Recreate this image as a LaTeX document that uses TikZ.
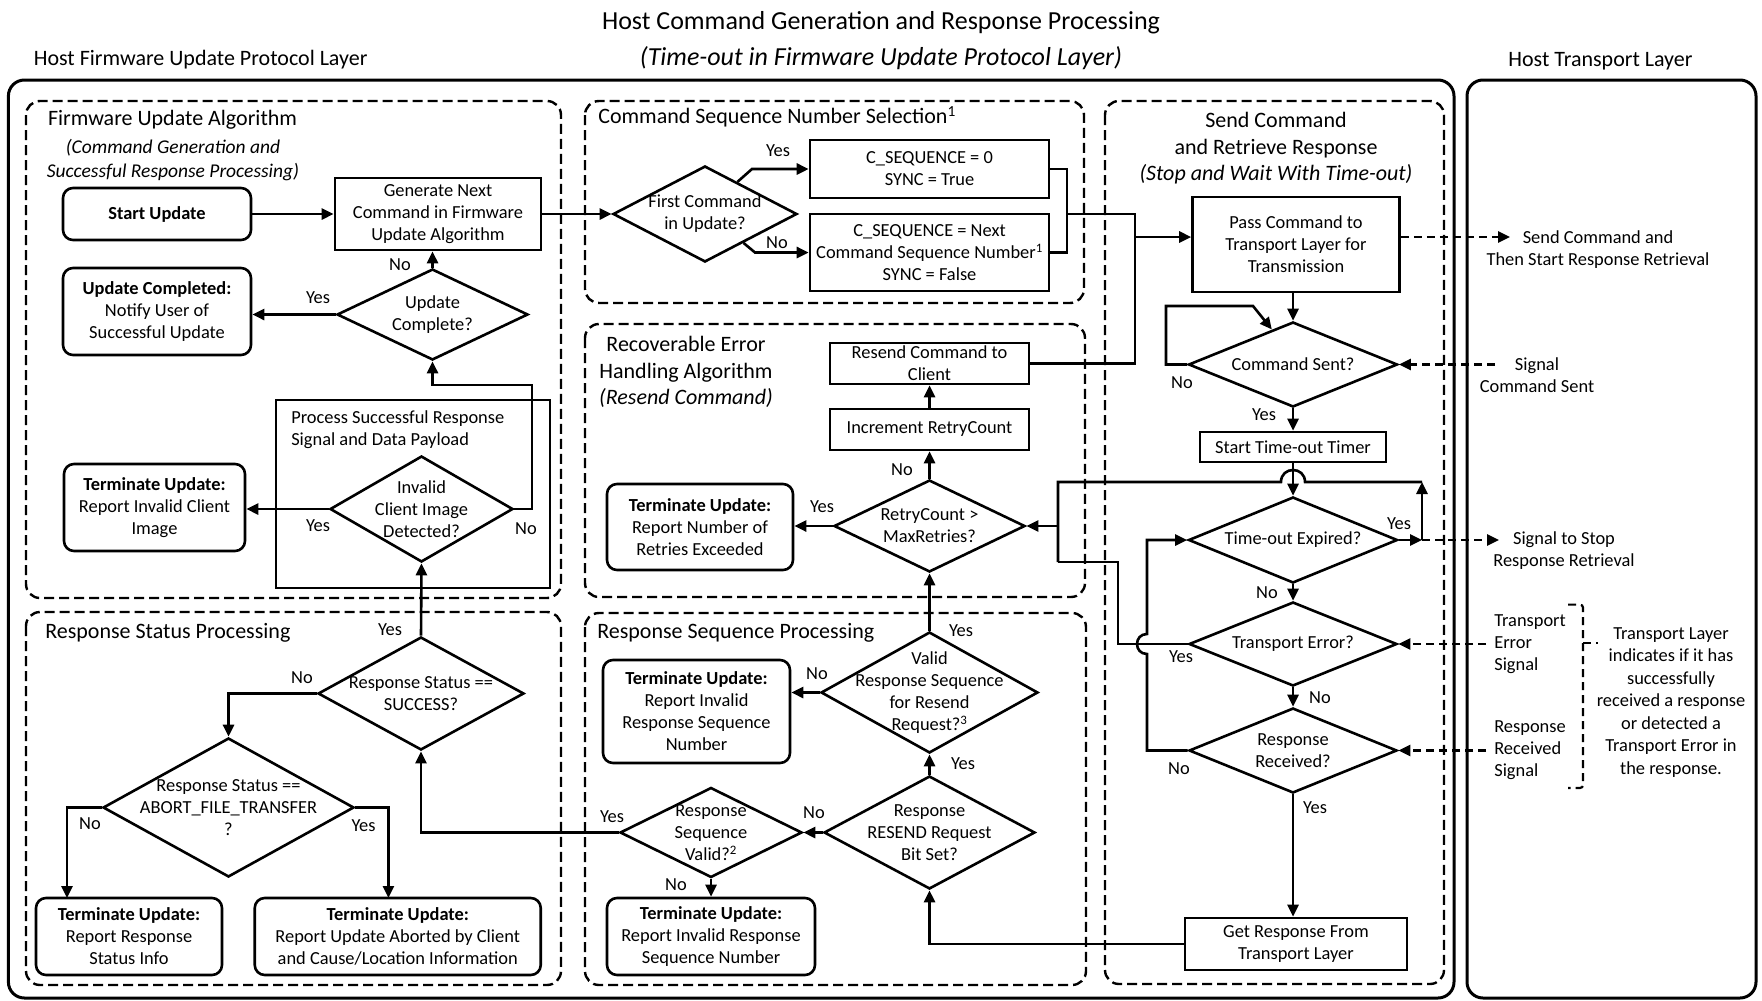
\documentclass[tikz,border=0pt]{standalone}
\usepackage{fontspec}
\setmainfont{Carlito}
\usetikzlibrary{arrows.meta,calc,shapes.geometric}

% decision: name, position, width, height, text (text kept separate from the outline)
\newcommand{\decision}[5]{%
  \node[dia, minimum width=#3, minimum height=#4] (#1) at #2 {};
  \node[dtext] (#1-text) at #2 {#5};
}

\begin{document}
\begin{tikzpicture}[x=1pt,y=-1pt,
  font=\fontsize{18.4}{22}\selectfont,
  line width=2.6pt,
  arr/.style={-{Triangle[length=12pt,width=11pt]}},
  box/.style={draw, rectangle, inner sep=0pt, align=center},
  term/.style={draw, rectangle, rounded corners=10pt, inner sep=0pt, align=center},
  dia/.style={draw, diamond, inner sep=0pt},
  dtext/.style={align=center, inner sep=0pt},
  region/.style={draw, dash pattern=on 10pt off 5pt, rounded corners=14pt, line width=2.4pt},
  layer/.style={draw, rounded corners=16pt, line width=3pt},
  sig/.style={dash pattern=on 8pt off 5pt},
  lbl/.style={inner sep=0pt},
  sect/.style={font=\fontsize{22}{26.5}\selectfont, inner sep=0pt},
]
\fill[white] (0,0) rectangle (1762,1001);

% ---------- headings ----------
\node[inner sep=0pt, font=\fontsize{26}{31}\selectfont] (title) at (881,23)
  {Host Command Generation and Response Processing};
\node[inner sep=0pt, font=\fontsize{26}{31}\selectfont\itshape] (subtitle) at (881,58)
  {(Time-out in Firmware Update Protocol Layer)};
\node[sect, anchor=west] (layerL) at (32.5,60) {Host Firmware Update Protocol Layer};
\node[sect] (layerR) at (1600.5,61) {Host Transport Layer};

% ---------- layer frames ----------
\draw[layer] (8.4,80) rectangle (1454,998);
\draw[layer] (1467,80) rectangle (1756,998);

% ---------- dashed regions ----------
\draw[region] (26,101) rectangle (561,598);
\draw[region] (585,101) rectangle (1084,303);
\draw[region] (1105,101) rectangle (1444,984);
\draw[region] (585,324) rectangle (1085,597);
\draw[region] (26,612) rectangle (561,985);
\draw[region] (585,613) rectangle (1086,985);

% ---------- region titles ----------
\node[sect, anchor=west] (tA) at (46.7,120) {Firmware Update Algorithm};
\node[inner sep=0pt, align=center, font=\fontsize{19.5}{24}\selectfont\itshape] (tA2) at (173,160)
  {(Command Generation and\\Successful Response Processing)};
\node[sect, anchor=west] (tB) at (597,117) {Command Sequence Number Selection\textsuperscript{1}};
\node[sect, align=center] (tD) at (686,372)
  {Recoverable Error\\Handling Algorithm\\\textit{(Resend Command)}};
\node[sect, align=center] (tC) at (1276,148.5)
  {Send Command\\and Retrieve Response\\\textit{(Stop and Wait With Time-out)}};
\node[sect, anchor=west] (tE) at (44,633) {Response Status Processing};
\node[sect, anchor=west] (tF) at (596,633) {Response Sequence Processing};

% ---------- firmware update algorithm ----------
\node[term, minimum width=188pt, minimum height=52pt] (start) at (157,214) {\textbf{Start Update}};
\node[box, minimum width=206pt, minimum height=72pt] (gen) at (438,214)
  {Generate Next\\Command in Firmware\\Update Algorithm};
\decision{ucd}{(432.5,314.5)}{191pt}{91pt}{Update\\Complete?}
\node[term, minimum width=188pt, minimum height=87pt] (ucomp) at (157,311.5)
  {\textbf{Update Completed:}\\Notify User of\\Successful Update};
\node[box, minimum width=274pt, minimum height=188pt] (proc) at (413,494) {};
\node[inner sep=0pt, align=left, anchor=west] (proc-text) at (290,430)
  {Process Successful Response\\Signal and Data Payload};
\decision{inv}{(421.5,509)}{183pt}{106pt}{Invalid\\Client Image\\Detected?}
\node[term, minimum width=181pt, minimum height=87pt] (tinv) at (154.5,507.5)
  {\textbf{Terminate Update:}\\Report Invalid Client\\Image};

% ---------- command sequence number selection ----------
\decision{fc}{(705,214)}{184pt}{96pt}{First Command\\in Update?}
\node[box, minimum width=239pt, minimum height=58pt] (c0) at (929.5,169)
  {C\_SEQUENCE = 0\\SYNC = True};
\node[box, minimum width=239pt, minimum height=77pt] (cn) at (929.5,252.5)
  {C\_SEQUENCE = Next\\Command Sequence Number\textsuperscript{1}\\SYNC = False};

% ---------- recoverable error handling ----------
\node[box, minimum width=199pt, minimum height=41pt] (resend) at (929.5,363.5)
  {Resend Command to\\Client};
\node[box, minimum width=199pt, minimum height=41pt] (inc) at (929.5,429.5)
  {Increment RetryCount};
\decision{rc}{(929.5,526)}{191pt}{92pt}{RetryCount >\\MaxRetries?}
\node[term, minimum width=186pt, minimum height=86pt] (tret) at (700,527)
  {\textbf{Terminate Update:}\\Report Number of\\Retries Exceeded};

% ---------- send command and retrieve response ----------
\node[box, minimum width=207pt, minimum height=95pt] (pass) at (1296,244.5)
  {Pass Command to\\Transport Layer for\\Transmission};
\decision{cs}{(1293,364.5)}{209pt}{85pt}{Command Sent?}
\node[box, minimum width=186pt, minimum height=30pt] (timer) at (1293,447)
  {Start Time-out Timer};
\decision{to}{(1293,540)}{209pt}{86pt}{Time-out Expired?}
\decision{te}{(1293,644)}{208pt}{84pt}{Transport Error?}
\decision{rr}{(1293,750.5)}{208pt}{85pt}{Response\\Received?}
\node[box, minimum width=222pt, minimum height=52pt] (get) at (1296,944)
  {Get Response From\\Transport Layer};

% ---------- response status processing ----------
\decision{succ}{(421,693.5)}{206pt}{113pt}{Response Status ==\\SUCCESS?}
\decision{abort}{(228.5,807.5)}{251pt}{139pt}{Response Status ==\\ABORT\_FILE\_TRANSFER\\?}
\node[term, minimum width=186pt, minimum height=77pt] (tstat) at (129,936.5)
  {\textbf{Terminate Update:}\\Report Response\\Status Info};
\node[term, minimum width=286pt, minimum height=77pt] (tabort) at (397.75,936.5)
  {\textbf{Terminate Update:}\\Report Update Aborted by Client\\and Cause/Location Information};

% ---------- response sequence processing ----------
\decision{vrs}{(929.5,692.5)}{217pt}{121pt}{Valid\\Response Sequence\\for Resend\\Request?\textsuperscript{3}}
\node[term, minimum width=187pt, minimum height=103pt] (trsn) at (696.5,711.5)
  {\textbf{Terminate Update:}\\Report Invalid\\Response Sequence\\Number};
\decision{resbit}{(929.5,832.5)}{211pt}{113pt}{Response\\RESEND Request\\Bit Set?}
\decision{rsv}{(711,832.5)}{182pt}{90pt}{Response\\Sequence\\Valid?\textsuperscript{2}}
\node[term, minimum width=208pt, minimum height=77pt] (trisn) at (711,936.5)
  {\textbf{Terminate Update:}\\Report Invalid Response\\Sequence Number};

% ---------- transport layer notes ----------
\node[dtext] (n-send) at (1598,249.5) {Send Command and\\Then Start Response Retrieval};
\node[dtext] (n-sent) at (1537,375) {Signal\\Command Sent};
\node[dtext] (n-stop) at (1564,550.7) {Signal to Stop\\Response Retrieval};
\node[inner sep=0pt, align=left, anchor=west] (n-err) at (1493,644.5) {Transport\\Error\\Signal};
\node[inner sep=0pt, align=left, anchor=west] (n-rcv) at (1493,750.5) {Response\\Received\\Signal};
\node[dtext, font=\fontsize{18.4}{22.5}\selectfont] (n-info) at (1671,702.5)
  {Transport Layer\\indicates if it has\\successfully\\received a response\\or detected a\\Transport Error in\\the response.};

% ---------- helper points ----------
\coordinate (fcy1) at ($(fc.north)!0.348!(fc.east)$);
\coordinate (fcy2) at (752,169);
\coordinate (fcn1) at ($(fc.east)!0.587!(fc.south)$);
\coordinate (fcn2) at (755,252.5);
\coordinate (m1) at (1067,214);
\coordinate (m2) at (1135,214);
\coordinate (m3) at (1135,363.5);
\coordinate (m4) at (1135,237);
\coordinate (cl1) at (1166,306);
\coordinate (cl2) at (1253,306);
\coordinate (csin) at ($(cs.north)!0.2!(cs.west)$);
\coordinate (ty1) at (1422,540);
\coordinate (ty2) at (1422,482);
\coordinate (h1) at (1305,482);
\coordinate (h2) at (1281,482);
\coordinate (rl1) at (1058,482);
\coordinate (rl2) at (1058,562);
\coordinate (rl3) at (1058,526);
\coordinate (te1) at (1118,562);
\coordinate (rn1) at (1147,750.5);
\coordinate (rn2) at (1147,654);
\coordinate (rn3) at (1147,634);
\coordinate (rn4) at (1147,540);
\coordinate (in2) at (532,385);
\coordinate (an) at (67,898);
\coordinate (ay) at (388.4,898);
\coordinate (s1) at (1510,237);
\coordinate (s2) at (1495,364.5);
\coordinate (s3) at (1499,540);
\coordinate (s4) at (1486,644);
\coordinate (s5) at (1486,750.5);
\coordinate (br1) at (1568,604.6);
\coordinate (br2) at (1583,604.6);
\coordinate (br3) at (1583,788);
\coordinate (br4) at (1568,788);
\coordinate (br5) at (1583,643);
\coordinate (br6) at (1598,643);

% ---------- connectors: firmware update algorithm ----------
\draw[arr] (start) -- (gen);
\draw[arr] (gen) -- (fc);
\draw[arr] (ucd.north) -- (ucd.north |- gen.south);
\draw[arr] (ucd.west) -- (ucd.west -| ucomp.east);
\draw[arr] (inv.west) -- (inv.west -| tinv.east);
\draw[arr] (inv.east) -| (in2) -| (ucd.south);
\node[lbl] (l-ucd-no) at (400,265) {No};
\node[lbl] (l-ucd-yes) at (318,298) {Yes};
\node[lbl] (l-inv-yes) at (318,526) {Yes};
\node[lbl] (l-inv-no) at (526,529) {No};

% ---------- connectors: sequence number selection ----------
\draw[arr] (fcy1) -- (fcy2) -- (c0.west);
\draw[arr] (fcn1) -- (fcn2) -- (cn.west);
\node[lbl] (l-fc-yes) at (778,151) {Yes};
\node[lbl] (l-fc-no) at (777,243) {No};
\draw (c0.east) -- (c0.east -| m1) -- (cn.east -| m1) -- (cn.east);
\draw (m1) -- (m2) -- (m3) -- (resend.east);
\draw[arr] (m4) -- (m4 -| pass.west);

% ---------- connectors: send and retrieve ----------
\draw[arr] (pass.south -| cs.north) -- (cs.north);
\draw[arr] (cs.west) -| (cl1) -- (cl2) -- (csin);
\node[lbl] (l-cs-no) at (1182,383) {No};
\draw[arr] (cs.south) -- (timer.north);
\node[lbl] (l-cs-yes) at (1264,415) {Yes};
\draw[arr] (timer.south) -- (to.north);
\draw[arr] (to.east) -- (ty1);
\draw[arr] (ty1) -- (ty2);
\draw (ty2) -- (h1) .. controls (1305,466) and (1281,466) .. (h2) -- (rl1) -- (rl2);
\draw[arr] (rl3) -- (rc.east);
\draw (te.west) -| (te1) -- (rl2);
\node[lbl] (l-to-yes) at (1399,524) {Yes};
\draw[arr] (to.south) -- (te.north);
\node[lbl] (l-to-no) at (1267,593) {No};
\node[lbl] (l-te-yes) at (1181,657) {Yes};
\draw[arr] (te.south) -- (rr.north);
\node[lbl] (l-te-no) at (1320,698) {No};
\draw[arr] (rr.west) -- (rn1) -- (rn2) .. controls (1133.7,654) and (1133.7,634) .. (rn3) -- (rn4) -- (to.west);
\node[lbl] (l-rr-no) at (1179,769) {No};
\draw[arr] (rr.south) -- (rr.south |- get.north);
\node[lbl] (l-rr-yes) at (1315,808) {Yes};

% ---------- connectors: sequence processing and error handling ----------
\draw[arr] (get.west) -| (resbit.south);
\draw[arr] (resbit.north) -- (vrs.south);
\node[lbl] (l-rb-yes) at (963,764) {Yes};
\draw[arr] (resbit.west) -- (rsv.east);
\node[lbl] (l-rb-no) at (814,813) {No};
\draw[arr] (rsv.south) -- (trisn.north);
\node[lbl] (l-rsv-no) at (676,885) {No};
\draw[arr] (rsv.west) -| (succ.south);
\node[lbl] (l-rsv-yes) at (612,817) {Yes};
\draw[arr] (vrs.west) -- (vrs.west -| trsn.east);
\node[lbl] (l-vrs-no) at (817,674) {No};
\draw[arr] (vrs.north) -- (rc.south);
\node[lbl] (l-vrs-yes) at (961,631) {Yes};
\draw[arr] (rc.west) -- (rc.west -| tret.east);
\node[lbl] (l-rc-yes) at (822,507) {Yes};
\draw[arr] (rc.north) -- (inc.south);
\node[lbl] (l-rc-no) at (902,470) {No};
\draw[arr] (inc.north) -- (resend.south);

% ---------- connectors: status processing ----------
\draw[arr] (succ.north) -- (inv.south);
\node[lbl] (l-su-yes) at (390,630) {Yes};
\draw[arr] (succ.west) -| (abort.north);
\node[lbl] (l-su-no) at (302,678) {No};
\draw[arr] (abort.west) -| (an);
\node[lbl] (l-ab-no) at (90,824) {No};
\draw[arr] (abort.east) -| (ay);
\node[lbl] (l-ab-yes) at (363.5,826) {Yes};

% ---------- signals to and from the transport layer ----------
\draw[sig,arr] (m4 -| pass.east) -- (s1);
\draw[sig,arr] (s2) -- (cs.east);
\draw[sig,arr] (ty1) -- (s3);
\draw[sig,arr] (s4) -- (te.east);
\draw[sig,arr] (s5) -- (rr.east);
\draw[sig, line width=2.2pt, rounded corners=3pt] (br1) -- (br2) -- (br3) -- (br4);
\draw[sig, line width=2.2pt] (br5) -- (br6);

\end{tikzpicture}
\end{document}
